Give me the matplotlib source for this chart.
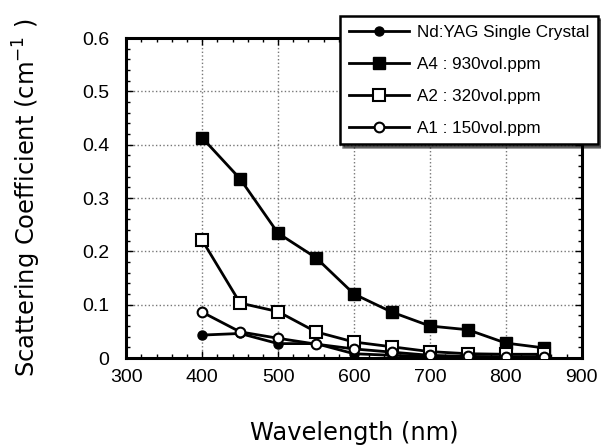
import matplotlib
matplotlib.use("Agg")
import matplotlib.pyplot as plt
from matplotlib import ticker

plt.rcParams['font.family'] = ['Liberation Sans', 'DejaVu Sans']

wavelength = [400, 450, 500, 550, 600, 650, 700, 750, 800, 850]
ndyag = [0.043, 0.046, 0.027, 0.027, 0.008, 0.005, 0.003, 0.002, 0.002, 0.002]
a4 = [0.413, 0.336, 0.234, 0.188, 0.120, 0.086, 0.060, 0.053, 0.028, 0.019]
a2 = [0.221, 0.103, 0.087, 0.049, 0.030, 0.021, 0.012, 0.008, 0.007, 0.007]
a1 = [0.086, 0.049, 0.037, 0.026, 0.017, 0.011, 0.005, 0.003, 0.002, 0.002]

labels = ['Nd:YAG Single Crystal', 'A4 : 930vol.ppm', 'A2 : 320vol.ppm', 'A1 : 150vol.ppm']

fig = plt.figure(figsize=(6.01, 4.45), dpi=100)
ax = fig.add_axes([0.21, 0.1955, 0.758, 0.719])

ax.plot(wavelength, ndyag, color='black', lw=2, marker='o', ms=6.5,
        mfc='black', mec='black', label=labels[0], zorder=3)
ax.plot(wavelength, a4, color='black', lw=2, marker='s', ms=8.5,
        mfc='black', mec='black', label=labels[1], zorder=3)
ax.plot(wavelength, a2, color='black', lw=2, marker='s', ms=8.5,
        mfc='white', mec='black', mew=1.5, label=labels[2], zorder=3)
ax.plot(wavelength, a1, color='black', lw=2, marker='o', ms=7,
        mfc='white', mec='black', mew=1.5, label=labels[3], zorder=3)

ax.set_xlim(300, 900)
ax.set_ylim(0, 0.6)
ax.xaxis.set_major_locator(ticker.MultipleLocator(100))
ax.xaxis.set_minor_locator(ticker.MultipleLocator(20))
ax.yaxis.set_major_locator(ticker.MultipleLocator(0.1))
ax.yaxis.set_minor_locator(ticker.MultipleLocator(0.02))
ax.yaxis.set_major_formatter(ticker.FuncFormatter(lambda v, p: '0' if abs(v) < 1e-9 else f'{v:.1f}'))

ax.grid(which='major', color='#777777', linestyle=':', linewidth=1)
ax.tick_params(which='both', direction='in', top=True, right=True, width=1)
ax.tick_params(which='major', length=5, labelsize=14, pad=8)
ax.tick_params(axis='y', which='major', pad=12)
ax.tick_params(which='minor', length=3)
for s in ax.spines.values():
    s.set_linewidth(2.2)

ax.set_xlabel('Wavelength (nm)', fontsize=17.4, family='DejaVu Sans')
ax.set_ylabel('Scattering Coefficient (cm$^{-1}$ )', fontsize=17.4, family='DejaVu Sans')
ax.xaxis.set_label_coords(0.5, -0.198)
ax.yaxis.set_label_coords(-0.182, 0.5)

leg = fig.legend(loc='upper right', bbox_to_anchor=(0.995, 0.964),
                 fontsize=12.3, handlelength=3.5, handletextpad=0.5,
                 labelspacing=1.0, borderpad=0.5, borderaxespad=0,
                 fancybox=False, frameon=True,
                 shadow={'ox': 2, 'oy': -2, 'color': 'black'},
                 edgecolor='black', framealpha=1)
leg.get_frame().set_linewidth(1.8)

fig.savefig('out.png', dpi=100)
